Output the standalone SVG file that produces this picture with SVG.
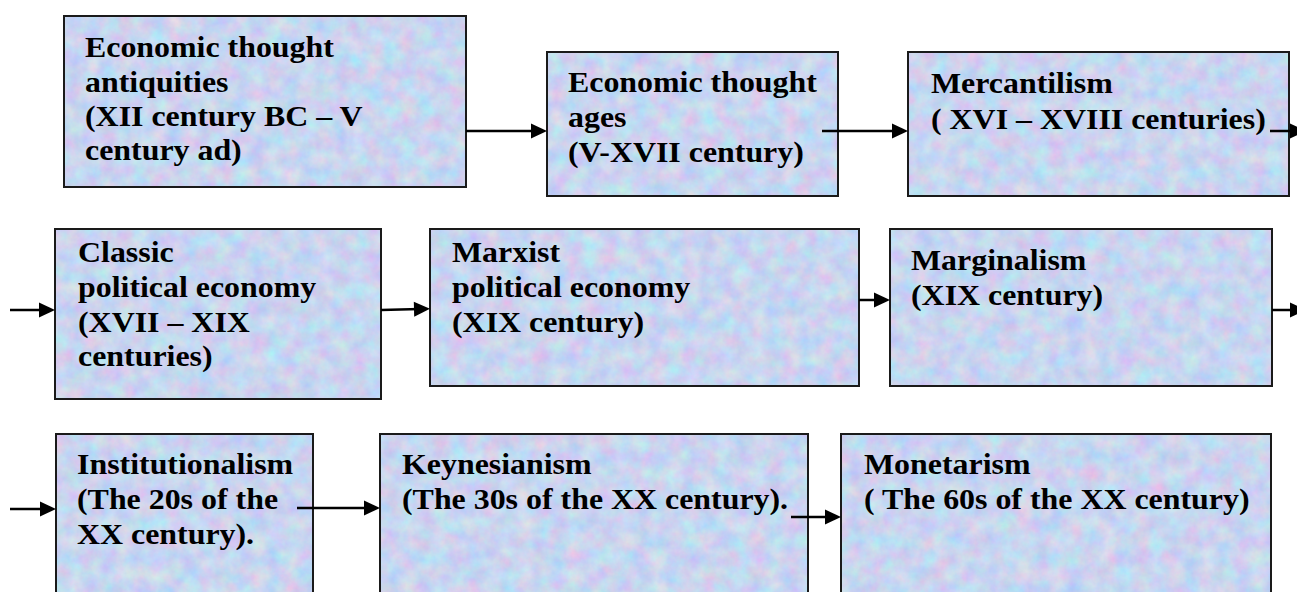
<svg xmlns="http://www.w3.org/2000/svg" width="1297" height="592" viewBox="0 0 1297 592">
<style>
.bg{fill:#c8d4f0;filter:url(#tex)}
.bd{fill:none;stroke:#1a1a1a;stroke-width:2}
.t{font-family:"Liberation Serif","Times New Roman",serif;font-weight:bold;font-size:29px;fill:#000}
.c{fill:none;stroke:#000;stroke-width:2.5;marker-end:url(#ah)}
</style>
<defs>
<filter id="tex" x="0" y="0" width="100%" height="100%" color-interpolation-filters="sRGB">
<feTurbulence type="fractalNoise" baseFrequency="0.06" numOctaves="4" seed="7" result="n"/>
<feColorMatrix in="n" type="matrix" values="0.25 0 -0.15 0 0.735  -0.1 0.2 0 0 0.785  0 0 0.12 0 0.88  0 0 0 0 1" result="c"/>
<feComposite in="c" in2="SourceGraphic" operator="in"/>
</filter>
<marker id="ah" markerUnits="userSpaceOnUse" markerWidth="16" markerHeight="15" refX="6" refY="7.5" orient="auto" overflow="visible">
<path d="M0,0 L16,7.5 L0,15 z" fill="#000"/>
</marker>
</defs>
<rect width="1297" height="592" fill="#fff"/>

<g id="n1">
<rect class="bg" x="64" y="16" width="402" height="171"/>
<rect class="bd" x="64" y="16" width="402" height="171"/>
<text class="t" transform="translate(85,57) scale(1.1,1)"><tspan x="0" y="0">Economic thought</tspan><tspan x="0" y="35">antiquities</tspan><tspan x="0" y="69">(XII century BC – V</tspan><tspan x="0" y="103">century ad)</tspan></text>
</g>
<g id="n2">
<rect class="bg" x="547" y="52" width="291" height="144"/>
<rect class="bd" x="547" y="52" width="291" height="144"/>
<text class="t" transform="translate(568,92) scale(1.1,1)"><tspan x="0" y="0">Economic thought</tspan><tspan x="0" y="35">ages</tspan><tspan x="0" y="70">(V-XVII century)</tspan></text>
</g>
<g id="n3">
<rect class="bg" x="908" y="52" width="381" height="144"/>
<rect class="bd" x="908" y="52" width="381" height="144"/>
<text class="t" transform="translate(931,93) scale(1.1,1)"><tspan x="0" y="0">Mercantilism</tspan><tspan x="0" y="36">( XVI – XVIII centuries)</tspan></text>
</g>

<g id="n4">
<rect class="bg" x="55" y="229" width="326" height="170"/>
<rect class="bd" x="55" y="229" width="326" height="170"/>
<text class="t" transform="translate(78,262) scale(1.1,1)"><tspan x="0" y="0">Classic</tspan><tspan x="0" y="35">political economy</tspan><tspan x="0" y="70">(XVII – XIX</tspan><tspan x="0" y="104">centuries)</tspan></text>
</g>
<g id="n5">
<rect class="bg" x="430" y="229" width="429" height="157"/>
<rect class="bd" x="430" y="229" width="429" height="157"/>
<text class="t" transform="translate(452,262) scale(1.1,1)"><tspan x="0" y="0">Marxist</tspan><tspan x="0" y="35">political economy</tspan><tspan x="0" y="70">(XIX century)</tspan></text>
</g>
<g id="n6">
<rect class="bg" x="890" y="229" width="382" height="157"/>
<rect class="bd" x="890" y="229" width="382" height="157"/>
<text class="t" transform="translate(911,270) scale(1.1,1)"><tspan x="0" y="0">Marginalism</tspan><tspan x="0" y="35">(XIX century)</tspan></text>
</g>

<g id="n7">
<rect class="bg" x="56" y="434" width="257" height="170"/>
<rect class="bd" x="56" y="434" width="257" height="170"/>
<text class="t" transform="translate(77,474) scale(1.1,1)"><tspan x="0" y="0">Institutionalism</tspan><tspan x="0" y="35">(The 20s of the</tspan><tspan x="0" y="70">XX century).</tspan></text>
</g>
<g id="n8">
<rect class="bg" x="380" y="434" width="428" height="170"/>
<rect class="bd" x="380" y="434" width="428" height="170"/>
<text class="t" transform="translate(402,474) scale(1.1,1)"><tspan x="0" y="0">Keynesianism</tspan><tspan x="0" y="35">(The 30s of the XX century).</tspan></text>
</g>
<g id="n9">
<rect class="bg" x="841" y="434" width="430" height="170"/>
<rect class="bd" x="841" y="434" width="430" height="170"/>
<text class="t" transform="translate(864,474) scale(1.1,1)"><tspan x="0" y="0">Monetarism</tspan><tspan x="0" y="35">( The 60s of the XX century)</tspan></text>
</g>

<g id="connectors">
<path class="c" d="M466,131 L537,131"/>
<path class="c" d="M822,131 L898,131"/>
<path class="c" d="M1270,131 L1296,131"/>
<path class="c" d="M10,310 L45,310"/>
<path class="c" d="M381,310 L420,309"/>
<path class="c" d="M859,300 L880,300"/>
<path class="c" d="M1272,310 L1296,310"/>
<path class="c" d="M10,509 L46,509"/>
<path class="c" d="M297,508 L370,508"/>
<path class="c" d="M791,517 L831,517"/>
</g>
</svg>
